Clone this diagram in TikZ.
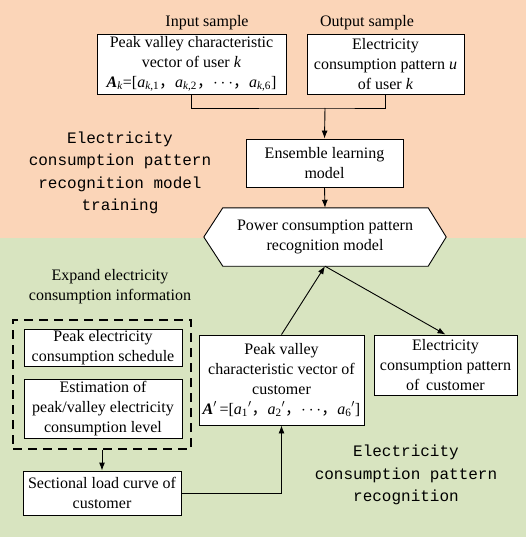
\documentclass[tikz,border=0pt]{standalone}
\usepackage{fontspec}
\setmainfont{Liberation Serif}
\setmonofont{Liberation Mono}
\newfontfamily\cjk{Noto Sans CJK SC}
\newcommand{\fwc}{{\cjk ，}}
\usetikzlibrary{arrows.meta,calc}
\definecolor{peach}{RGB}{251,213,184}
\definecolor{sage}{RGB}{216,228,192}
\begin{document}
\begin{tikzpicture}[x=1pt,y=-1pt,
  every node/.style={font=\fontsize{16}{20}\selectfont},
  box/.style={draw=black,fill=white,line width=0.9pt,align=center,inner sep=0pt,minimum height=#1},
  mono/.style={font=\fontsize{16}{22.5}\ttfamily\selectfont,align=center},
  arr/.style={line width=0.9pt,-{Latex[length=8pt,width=6pt]}},
  ln/.style={line width=0.9pt}]
\useasboundingbox (0,0) rectangle (526,537);
\fill[peach] (0,0) rectangle (526,238);
\fill[sage] (0,238) rectangle (526,537);

\node (lin) at (207,23) {Input sample};
\node (lout) at (367,23) {Output sample};

\node[box=60pt,minimum width=189pt] (b1) at (191.5,64) {Peak valley characteristic\\vector of user \textit{k}\\\textbf{\textit{A}}\textsubscript{\textit{k}}=[\textit{a}\textsubscript{\textit{k},1}\fwc\textit{a}\textsubscript{\textit{k},2}\fwc$\cdots$\fwc\textit{a}\textsubscript{\textit{k},6}]};
\node[box=60pt,minimum width=157pt] (b2) at (385.5,64) {Electricity\\consumption pattern \textit{u}\\of user \textit{k}};
\coordinate (j) at (325,108);
\node[box=48pt,minimum width=157pt] (ens) at (324.5,163) {Ensemble learning\\model};

\node[mono] (t1) at (120,173) {Electricity\\consumption pattern\\recognition model\\training};

\node[align=center,minimum width=242pt,minimum height=58pt,inner sep=0pt] (hex) at (325,237) {};
\draw[ln,fill=white] (hex.west) -- ($(hex.north west)+(19,0)$) -- ($(hex.north east)+(-18,0)$) -- (hex.east) -- ($(hex.south east)+(-18,0)$) -- ($(hex.south west)+(19,0)$) -- cycle;
\node[align=center] (hext) at (hex.center) {Power consumption pattern\\recognition model};

\node[align=center] (exp) at (110,287) {Expand electricity\\consumption information};
\node[draw,dashed,dash pattern=on 9pt off 6pt,line width=1.4pt,minimum width=178pt,minimum height=129pt,inner sep=0pt] (dash) at (102,384.5) {};
\node[box=37pt,minimum width=158pt] (pes) at (103,347.5) {Peak electricity\\consumption schedule};
\node[box=59pt,minimum width=158pt] (est) at (103,408.5) {Estimation of\\peak/valley electricity\\consumption level};
\node[box=44pt,minimum width=158pt] (sec) at (102,493) {Sectional load curve of\\customer};

\node[box=90pt,minimum width=165pt] (pvc) at (281.5,380) {Peak valley\\characteristic vector of\\customer\\\textbf{\textit{A}}$'$\,=[\textit{a}\textsubscript{1}$'$\fwc\textit{a}\textsubscript{2}$'$\fwc$\cdots$\fwc\textit{a}\textsubscript{6}$'$]};
\node[box=60pt,minimum width=143pt] (ecp) at (445.5,365) {Electricity\\consumption pattern\\of\, customer};

\node[mono] (t2) at (406,475) {Electricity\\consumption pattern\\recognition};

\draw[ln] (b1.south) |- (j) -| (b2.south);
\draw[arr] (j) -- (ens.north);
\draw[arr] (ens.south) -- (hex.north);
\draw[arr] (pvc.north) -- (hex.south);
\draw[arr] (hex.south) -- (ecp.north);
\draw[arr] (dash.south) -- (sec.north);
\draw[arr] (sec.east) -| (pvc.south);
\end{tikzpicture}
\end{document}
